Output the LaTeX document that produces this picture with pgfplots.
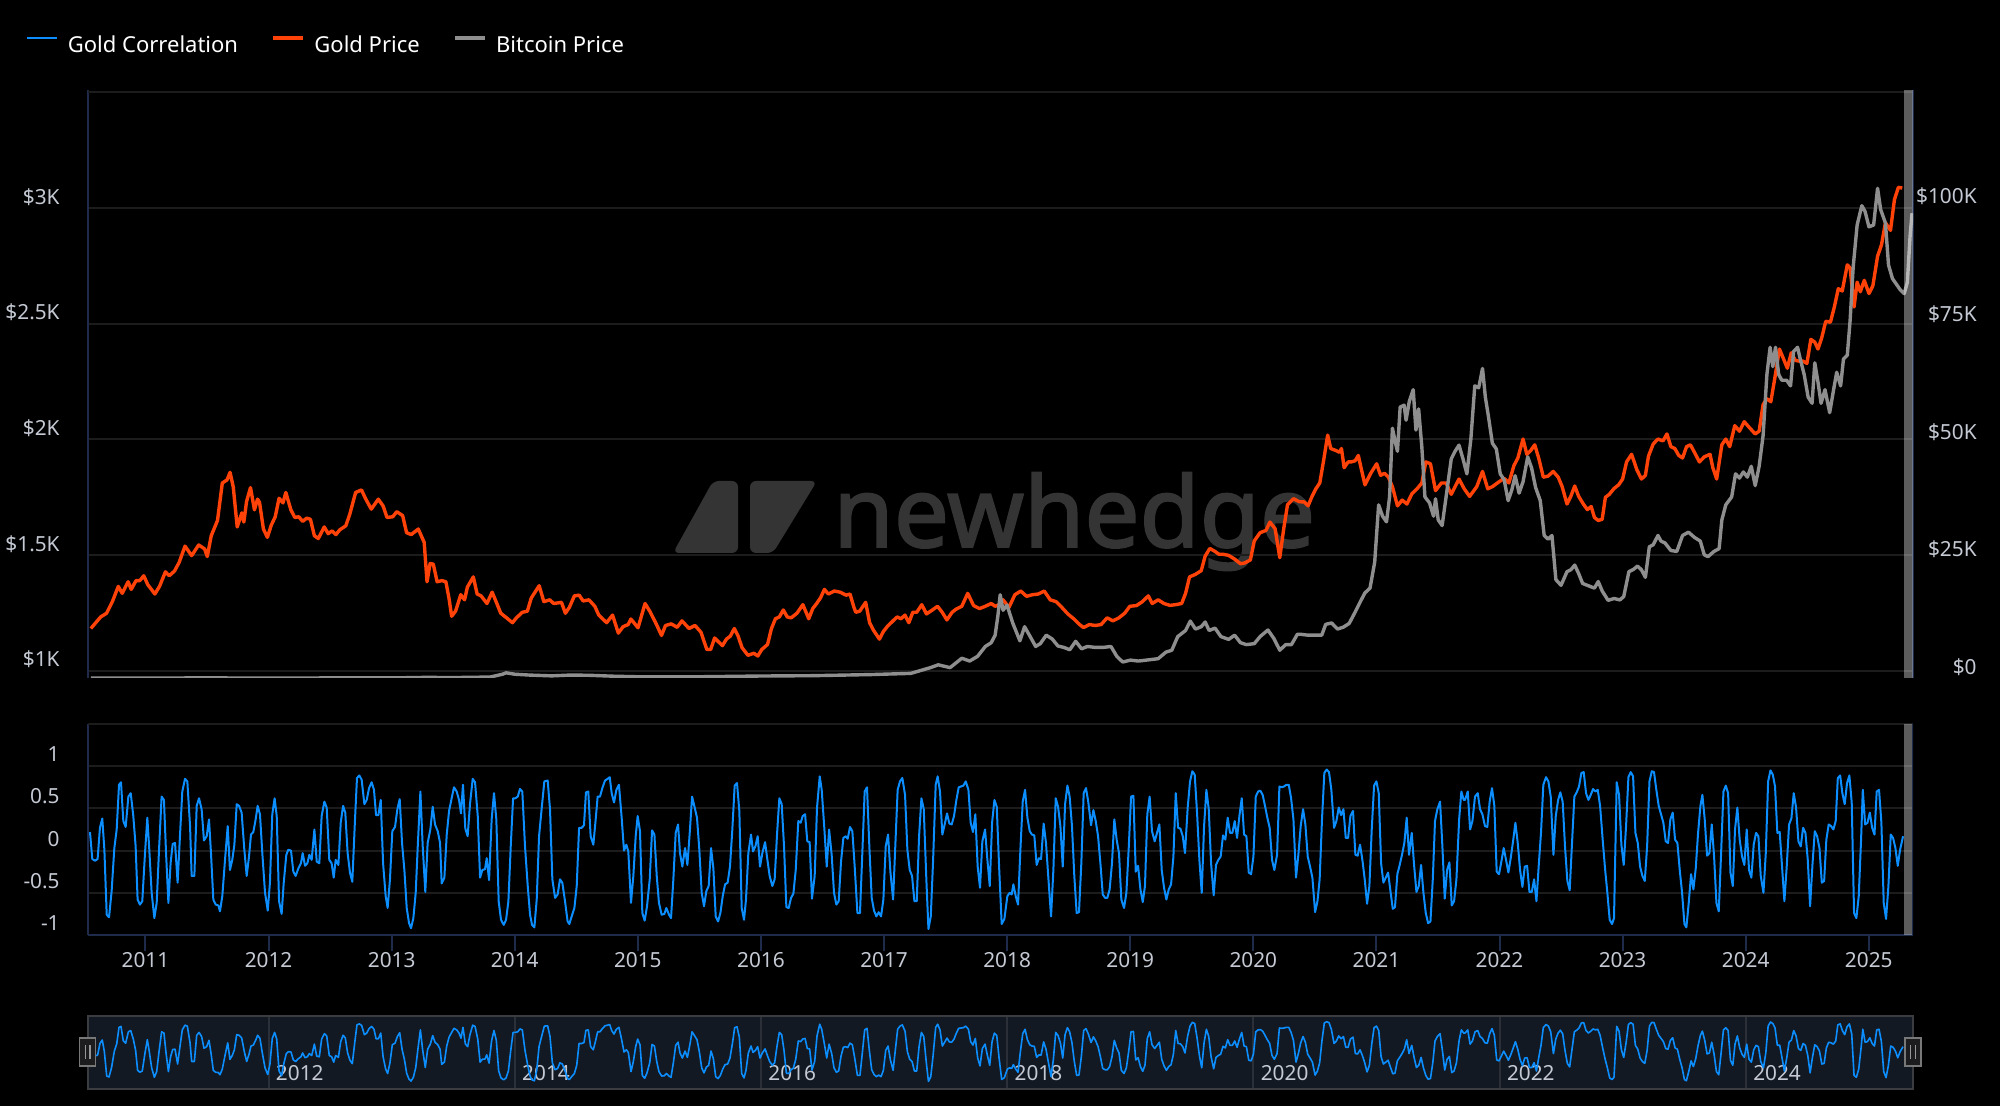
\documentclass[border=0pt]{standalone}
\usepackage{fontspec}
\setmainfont{Noto Sans}
\newfontfamily\wmfont[FakeBold=2]{Noto Sans}
\usepackage{pgfplots}
\usepackage{pgfplotstable}
\pgfplotsset{compat=1.18}

\definecolor{goldc}{HTML}{FF4208}
\definecolor{btcc}{HTML}{8E8E8E}
\definecolor{corrc}{HTML}{0C8EFF}
\definecolor{gridc}{HTML}{1C1C1C}
\definecolor{navyc}{HTML}{1E2B4A}
\definecolor{labc}{HTML}{C4C9D3}
\definecolor{wmc}{HTML}{343434}
\definecolor{navbg}{HTML}{131922}
\definecolor{navbd}{HTML}{3A3C40}
\definecolor{navsep}{HTML}{2A2F38}
\definecolor{handfill}{HTML}{1C1C1E}
\definecolor{handdraw}{HTML}{787878}
\definecolor{handgrip}{HTML}{969696}

\newcommand\tickfont{\fontsize{10.4}{12}\selectfont}
\newcommand\legfont{\fontsize{11}{13}\selectfont}

\pgfplotstableread{
year price
2010.556 1182
2010.588 1202
2010.636 1232
2010.684 1248
2010.731 1298
2010.779 1364
2010.811 1334
2010.859 1384
2010.884 1351
2010.923 1389
2010.954 1389
2010.986 1410
2011.018 1372
2011.076 1331
2011.114 1364
2011.162 1427
2011.193 1410
2011.235 1430
2011.273 1467
2011.321 1538
2011.375 1497
2011.432 1543
2011.480 1526
2011.502 1493
2011.534 1583
2011.585 1649
2011.624 1811
2011.662 1824
2011.687 1857
2011.713 1794
2011.745 1621
2011.783 1682
2011.799 1642
2011.821 1731
2011.853 1791
2011.885 1695
2011.910 1741
2011.926 1728
2011.958 1612
2011.990 1576
2012.022 1629
2012.054 1665
2012.085 1745
2012.117 1725
2012.140 1770
2012.181 1695
2012.213 1662
2012.245 1665
2012.277 1645
2012.309 1659
2012.340 1654
2012.372 1583
2012.404 1571
2012.452 1621
2012.484 1592
2012.516 1604
2012.547 1588
2012.579 1609
2012.627 1626
2012.659 1675
2012.707 1770
2012.755 1781
2012.786 1745
2012.834 1698
2012.891 1741
2012.930 1712
2012.962 1662
2013.009 1665
2013.041 1687
2013.089 1670
2013.121 1596
2013.159 1588
2013.216 1612
2013.264 1554
2013.287 1384
2013.312 1463
2013.338 1460
2013.369 1384
2013.408 1389
2013.440 1384
2013.465 1314
2013.487 1235
2013.519 1257
2013.561 1328
2013.592 1306
2013.615 1361
2013.663 1405
2013.694 1331
2013.726 1323
2013.774 1290
2013.816 1339
2013.854 1290
2013.886 1248
2013.933 1228
2013.981 1207
2014.013 1228
2014.061 1252
2014.102 1257
2014.134 1314
2014.198 1367
2014.236 1298
2014.284 1306
2014.316 1290
2014.379 1295
2014.411 1248
2014.443 1273
2014.484 1323
2014.523 1326
2014.555 1301
2014.602 1306
2014.650 1278
2014.682 1240
2014.746 1207
2014.794 1240
2014.841 1162
2014.880 1190
2014.921 1199
2014.943 1223
2015.001 1185
2015.058 1290
2015.096 1257
2015.144 1207
2015.192 1152
2015.224 1195
2015.271 1202
2015.319 1187
2015.358 1215
2015.415 1182
2015.464 1195
2015.512 1166
2015.560 1091
2015.591 1091
2015.623 1141
2015.655 1124
2015.687 1108
2015.719 1136
2015.751 1149
2015.783 1182
2015.814 1149
2015.846 1099
2015.894 1066
2015.942 1075
2015.974 1063
2016.006 1091
2016.053 1113
2016.085 1182
2016.117 1224
2016.149 1232
2016.181 1262
2016.213 1232
2016.245 1228
2016.292 1248
2016.340 1285
2016.388 1224
2016.420 1268
2016.452 1290
2016.484 1315
2016.515 1351
2016.547 1331
2016.595 1344
2016.643 1339
2016.691 1326
2016.723 1331
2016.755 1273
2016.770 1252
2016.802 1257
2016.850 1295
2016.882 1207
2016.914 1174
2016.962 1136
2016.994 1169
2017.025 1190
2017.057 1207
2017.105 1232
2017.137 1224
2017.169 1240
2017.201 1207
2017.233 1252
2017.265 1252
2017.306 1285
2017.344 1245
2017.392 1262
2017.434 1278
2017.472 1252
2017.510 1219
2017.552 1252
2017.583 1265
2017.631 1278
2017.679 1334
2017.727 1281
2017.775 1268
2017.822 1278
2017.870 1290
2017.902 1278
2017.934 1285
2017.966 1306
2018.014 1273
2018.062 1328
2018.110 1344
2018.157 1321
2018.205 1328
2018.253 1331
2018.301 1344
2018.349 1306
2018.397 1298
2018.444 1273
2018.492 1245
2018.540 1224
2018.588 1199
2018.620 1186
2018.667 1199
2018.715 1195
2018.763 1199
2018.811 1228
2018.859 1215
2018.907 1228
2018.954 1248
2018.996 1278
2019.050 1281
2019.098 1298
2019.146 1323
2019.178 1290
2019.226 1306
2019.273 1290
2019.321 1282
2019.369 1285
2019.417 1290
2019.449 1334
2019.481 1405
2019.529 1416
2019.576 1432
2019.608 1495
2019.646 1528
2019.688 1515
2019.720 1503
2019.752 1503
2019.799 1498
2019.847 1482
2019.895 1462
2019.927 1465
2019.975 1478
2020.007 1561
2020.054 1596
2020.102 1606
2020.134 1642
2020.176 1613
2020.214 1488
2020.246 1613
2020.277 1717
2020.325 1743
2020.373 1730
2020.412 1729
2020.444 1712
2020.476 1753
2020.507 1786
2020.539 1811
2020.571 1911
2020.603 2018
2020.628 1960
2020.667 1952
2020.699 1944
2020.715 1960
2020.737 1877
2020.769 1902
2020.794 1902
2020.826 1907
2020.852 1930
2020.874 1877
2020.906 1803
2020.953 1853
2021.001 1894
2021.033 1844
2021.065 1853
2021.097 1836
2021.129 1795
2021.170 1712
2021.208 1737
2021.247 1720
2021.288 1765
2021.329 1786
2021.368 1811
2021.400 1902
2021.438 1894
2021.479 1778
2021.527 1811
2021.565 1811
2021.607 1762
2021.638 1795
2021.670 1828
2021.712 1786
2021.756 1753
2021.814 1795
2021.861 1861
2021.903 1786
2021.941 1795
2021.989 1814
2022.037 1831
2022.075 1811
2022.116 1886
2022.148 1919
2022.190 2001
2022.221 1935
2022.253 1952
2022.285 1976
2022.317 1919
2022.355 1836
2022.394 1841
2022.435 1861
2022.476 1836
2022.508 1795
2022.547 1720
2022.578 1753
2022.610 1798
2022.642 1753
2022.680 1720
2022.712 1696
2022.744 1709
2022.770 1662
2022.801 1649
2022.833 1654
2022.859 1749
2022.891 1762
2022.929 1787
2022.967 1803
2022.999 1828
2023.031 1902
2023.072 1935
2023.114 1869
2023.152 1828
2023.184 1844
2023.209 1927
2023.248 1980
2023.286 2001
2023.327 1993
2023.359 2023
2023.391 1968
2023.423 1960
2023.455 1930
2023.486 1919
2023.518 1968
2023.550 1976
2023.582 1944
2023.623 1902
2023.662 1924
2023.709 1935
2023.732 1877
2023.763 1828
2023.805 1976
2023.837 2001
2023.869 1968
2023.910 2059
2023.948 2035
2023.987 2076
2024.028 2051
2024.076 2023
2024.108 2035
2024.140 2150
2024.171 2175
2024.203 2162
2024.241 2283
2024.273 2390
2024.305 2349
2024.337 2307
2024.369 2374
2024.401 2341
2024.432 2338
2024.464 2338
2024.496 2328
2024.528 2432
2024.560 2420
2024.586 2390
2024.617 2440
2024.649 2510
2024.687 2506
2024.719 2572
2024.751 2651
2024.783 2641
2024.824 2754
2024.847 2741
2024.879 2572
2024.904 2679
2024.930 2638
2024.962 2687
2025.000 2630
2025.032 2664
2025.070 2791
2025.102 2841
2025.134 2936
2025.175 2903
2025.207 3036
2025.239 3089
2025.271 3086
}\goldtable

\pgfplotstableread{
year btc
2010.556 0.07
2010.900 0.25
2011.200 0.9
2011.450 17
2011.800 3
2012.000 5
2012.600 10
2013.000 13
2013.280 130
2013.500 90
2013.800 200
2013.900 800
2013.930 1100
2014.000 800
2014.120 620
2014.300 450
2014.450 620
2014.600 580
2014.800 380
2015.000 260
2015.200 240
2015.464 250
2016.000 420
2016.420 490
2016.898 730
2017.217 980
2017.376 2200
2017.440 2800
2017.536 2200
2017.631 4200
2017.695 3600
2017.759 4600
2017.822 6700
2017.870 7500
2017.902 9100
2017.924 13200
2017.943 17700
2017.966 14400
2017.998 15500
2018.046 11600
2018.103 7900
2018.141 10900
2018.180 9100
2018.231 6700
2018.269 7300
2018.317 9100
2018.365 8300
2018.412 6800
2018.460 6500
2018.508 6000
2018.556 7800
2018.604 6200
2018.651 6700
2018.715 6500
2018.779 6500
2018.843 6700
2018.890 4600
2018.938 3400
2019.002 3800
2019.066 3600
2019.130 3800
2019.226 4100
2019.289 5500
2019.337 5900
2019.385 8800
2019.449 10100
2019.487 12100
2019.529 10400
2019.576 10900
2019.608 11900
2019.640 10100
2019.688 10600
2019.736 8800
2019.799 8200
2019.847 9100
2019.895 7500
2019.943 7100
2020.007 7300
2020.054 8800
2020.118 10200
2020.166 8400
2020.214 5900
2020.262 7100
2020.309 7100
2020.357 9300
2020.380 9300
2020.444 9100
2020.507 9100
2020.555 9100
2020.587 11400
2020.635 11700
2020.683 10400
2020.730 10800
2020.778 11600
2020.826 14000
2020.874 16500
2020.906 18100
2020.947 19100
2020.985 24600
2021.017 36800
2021.049 34400
2021.081 33200
2021.106 38500
2021.129 53100
2021.151 50300
2021.170 48200
2021.192 57600
2021.224 58000
2021.240 54800
2021.266 58800
2021.298 61300
2021.320 52700
2021.342 57200
2021.368 49100
2021.393 38500
2021.431 37200
2021.463 34400
2021.479 38100
2021.501 33600
2021.533 32400
2021.565 38500
2021.607 46600
2021.638 48200
2021.670 49500
2021.702 46600
2021.734 43400
2021.766 50700
2021.798 62100
2021.830 61700
2021.861 65800
2021.884 59700
2021.909 55600
2021.941 49900
2021.973 48700
2022.005 43400
2022.037 42100
2022.069 37700
2022.100 40100
2022.126 43000
2022.158 39300
2022.190 41700
2022.228 47000
2022.260 44600
2022.292 40500
2022.330 37700
2022.362 30300
2022.394 29500
2022.425 30300
2022.457 20900
2022.499 19700
2022.547 22600
2022.578 23000
2022.610 24000
2022.642 22200
2022.674 20100
2022.722 19600
2022.770 19100
2022.801 20500
2022.833 18500
2022.881 16500
2022.929 16900
2022.977 16600
2023.008 17300
2023.050 22600
2023.088 23100
2023.120 23800
2023.152 23000
2023.184 21400
2023.216 27900
2023.247 28300
2023.286 30300
2023.311 29100
2023.343 28700
2023.391 27100
2023.439 26900
2023.486 30300
2023.534 31000
2023.582 29900
2023.630 29100
2023.662 26200
2023.693 25800
2023.741 26900
2023.783 27500
2023.805 33600
2023.837 36800
2023.885 38500
2023.916 43400
2023.948 42500
2023.980 43800
2024.012 42700
2024.044 45000
2024.076 40900
2024.108 45000
2024.140 51500
2024.171 64500
2024.197 70300
2024.219 66200
2024.241 70300
2024.267 64500
2024.292 63300
2024.331 63300
2024.363 62100
2024.388 69400
2024.420 70300
2024.442 67800
2024.474 64500
2024.506 59700
2024.538 58400
2024.560 67000
2024.586 62900
2024.611 58400
2024.643 61300
2024.681 56400
2024.713 61300
2024.738 65000
2024.770 62100
2024.793 67800
2024.824 68600
2024.847 76000
2024.872 87400
2024.904 96300
2024.942 100400
2024.968 99200
2025.000 95900
2025.038 96300
2025.070 104100
2025.095 99600
2025.134 96700
2025.159 87800
2025.191 84900
2025.223 83700
2025.255 82500
2025.286 81700
2025.312 84100
2025.334 93900
2025.350 98800
}\btctable

\pgfplotstableread{
year corr
2010.549 0.22
2010.568 -0.10
2010.590 -0.12
2010.611 -0.10
2010.630 0.27
2010.649 0.38
2010.666 0.01
2010.685 -0.76
2010.704 -0.79
2010.725 -0.48
2010.747 0.03
2010.766 0.25
2010.785 0.78
2010.801 0.81
2010.820 0.35
2010.839 0.28
2010.861 0.64
2010.880 0.68
2010.901 0.41
2010.920 0.05
2010.936 -0.58
2010.955 -0.64
2010.974 -0.60
2010.996 -0.03
2011.015 0.39
2011.031 0.01
2011.050 -0.50
2011.072 -0.80
2011.091 -0.62
2011.110 0.01
2011.131 0.64
2011.150 0.60
2011.167 -0.03
2011.186 -0.62
2011.204 -0.15
2011.221 0.08
2011.240 0.09
2011.261 -0.38
2011.280 0.17
2011.299 0.70
2011.321 0.85
2011.340 0.82
2011.362 0.29
2011.375 -0.30
2011.397 -0.30
2011.416 0.53
2011.435 0.62
2011.456 0.49
2011.475 0.12
2011.497 0.17
2011.516 0.37
2011.532 -0.03
2011.551 -0.58
2011.570 -0.64
2011.592 -0.65
2011.605 -0.72
2011.624 -0.54
2011.646 -0.11
2011.668 0.29
2011.686 -0.23
2011.705 -0.11
2011.722 0.07
2011.741 0.55
2011.760 0.53
2011.781 0.45
2011.803 0.01
2011.822 -0.30
2011.841 -0.07
2011.857 0.19
2011.876 0.22
2011.895 0.37
2011.911 0.53
2011.930 0.43
2011.949 -0.03
2011.971 -0.50
2011.993 -0.71
2012.011 -0.38
2012.030 0.43
2012.049 0.62
2012.066 0.41
2012.085 -0.60
2012.106 -0.75
2012.123 -0.38
2012.144 -0.05
2012.160 0.01
2012.182 0.00
2012.201 -0.25
2012.220 -0.30
2012.242 -0.21
2012.263 -0.15
2012.277 -0.03
2012.296 -0.18
2012.315 -0.15
2012.331 -0.05
2012.350 -0.11
2012.372 0.25
2012.391 -0.13
2012.412 -0.15
2012.431 0.41
2012.453 0.58
2012.472 0.51
2012.493 -0.11
2012.512 -0.15
2012.529 -0.32
2012.545 -0.11
2012.567 -0.17
2012.586 0.33
2012.605 0.53
2012.623 0.45
2012.642 -0.03
2012.661 -0.26
2012.680 -0.37
2012.702 0.37
2012.718 0.86
2012.737 0.89
2012.756 0.84
2012.778 0.55
2012.797 0.60
2012.816 0.74
2012.837 0.81
2012.856 0.72
2012.873 0.42
2012.892 0.42
2012.911 0.60
2012.930 -0.15
2012.951 -0.54
2012.967 -0.68
2012.986 -0.34
2013.005 0.23
2013.027 0.28
2013.046 0.49
2013.065 0.61
2013.084 0.09
2013.103 -0.23
2013.122 -0.68
2013.141 -0.86
2013.157 -0.92
2013.176 -0.80
2013.195 -0.50
2013.211 0.03
2013.233 0.70
2013.252 0.05
2013.273 -0.49
2013.292 0.09
2013.314 0.25
2013.333 0.52
2013.352 0.31
2013.374 0.23
2013.393 0.09
2013.406 -0.39
2013.428 -0.32
2013.447 0.19
2013.466 0.47
2013.487 0.62
2013.506 0.75
2013.528 0.70
2013.547 0.60
2013.563 0.44
2013.579 0.78
2013.598 0.26
2013.617 0.17
2013.636 0.55
2013.658 0.85
2013.677 0.81
2013.699 0.41
2013.718 -0.32
2013.736 -0.23
2013.758 -0.22
2013.772 -0.09
2013.791 -0.35
2013.812 0.37
2013.831 0.68
2013.850 0.37
2013.869 -0.60
2013.888 -0.82
2013.910 -0.88
2013.929 -0.82
2013.948 -0.60
2013.967 0.05
2013.986 0.62
2014.005 0.62
2014.024 0.64
2014.042 0.73
2014.061 0.70
2014.083 0.05
2014.105 -0.42
2014.124 -0.76
2014.140 -0.88
2014.159 -0.91
2014.178 -0.58
2014.197 0.17
2014.219 0.51
2014.240 0.82
2014.267 0.83
2014.286 0.49
2014.305 -0.34
2014.327 -0.56
2014.348 -0.52
2014.367 -0.34
2014.386 -0.38
2014.408 -0.60
2014.429 -0.84
2014.443 -0.87
2014.462 -0.78
2014.484 -0.68
2014.503 -0.42
2014.522 0.27
2014.543 0.27
2014.562 0.30
2014.578 0.69
2014.597 0.70
2014.616 0.17
2014.638 0.07
2014.657 0.37
2014.673 0.64
2014.692 0.64
2014.711 0.74
2014.733 0.83
2014.754 0.85
2014.771 0.87
2014.787 0.68
2014.806 0.57
2014.825 0.72
2014.846 0.78
2014.868 0.39
2014.887 0.00
2014.906 0.07
2014.922 -0.01
2014.944 -0.62
2014.963 -0.30
2014.982 0.17
2014.998 0.41
2015.017 0.23
2015.036 -0.74
2015.055 -0.83
2015.074 -0.66
2015.096 -0.34
2015.115 0.24
2015.134 0.19
2015.153 -0.30
2015.171 -0.62
2015.193 -0.76
2015.215 -0.75
2015.231 -0.68
2015.253 -0.76
2015.269 -0.80
2015.288 -0.34
2015.307 0.21
2015.326 0.31
2015.342 -0.03
2015.361 -0.19
2015.383 0.03
2015.402 -0.17
2015.421 0.21
2015.440 0.64
2015.458 0.53
2015.480 0.39
2015.499 0.01
2015.518 -0.50
2015.537 -0.66
2015.556 -0.48
2015.575 -0.42
2015.594 0.03
2015.613 -0.21
2015.632 -0.78
2015.651 -0.84
2015.670 -0.74
2015.689 -0.54
2015.708 -0.40
2015.729 -0.38
2015.748 -0.19
2015.767 0.25
2015.786 0.77
2015.805 0.80
2015.824 0.47
2015.843 -0.68
2015.862 -0.82
2015.878 -0.58
2015.897 -0.03
2015.919 0.19
2015.935 -0.01
2015.954 0.05
2015.973 0.17
2015.992 -0.19
2016.011 -0.03
2016.033 0.10
2016.052 -0.11
2016.070 -0.30
2016.092 -0.42
2016.111 -0.34
2016.130 0.19
2016.149 0.62
2016.168 0.55
2016.187 0.05
2016.206 -0.67
2016.225 -0.68
2016.244 -0.56
2016.263 -0.51
2016.282 -0.23
2016.303 0.35
2016.322 0.33
2016.339 0.41
2016.358 0.43
2016.376 0.11
2016.395 0.10
2016.414 -0.57
2016.436 -0.30
2016.455 0.51
2016.477 0.88
2016.493 0.72
2016.515 0.25
2016.534 -0.19
2016.553 0.25
2016.574 -0.05
2016.593 -0.50
2016.612 -0.64
2016.631 -0.60
2016.650 -0.13
2016.669 0.15
2016.688 0.17
2016.704 0.14
2016.723 0.28
2016.742 0.23
2016.761 -0.19
2016.783 -0.74
2016.804 -0.74
2016.823 -0.03
2016.842 0.70
2016.861 0.75
2016.880 0.05
2016.899 -0.56
2016.918 -0.71
2016.937 -0.78
2016.956 -0.73
2016.975 -0.78
2016.994 -0.58
2017.013 0.05
2017.032 0.19
2017.051 -0.25
2017.073 -0.58
2017.089 -0.01
2017.110 0.72
2017.129 0.82
2017.148 0.86
2017.170 0.66
2017.189 0.01
2017.208 -0.23
2017.227 -0.30
2017.246 -0.60
2017.265 -0.60
2017.284 0.17
2017.303 0.62
2017.322 0.49
2017.343 -0.34
2017.360 -0.93
2017.379 -0.78
2017.397 -0.15
2017.419 0.78
2017.435 0.88
2017.454 0.70
2017.473 0.19
2017.492 0.31
2017.511 0.44
2017.530 0.32
2017.549 0.31
2017.568 0.41
2017.587 0.60
2017.606 0.75
2017.625 0.76
2017.644 0.77
2017.663 0.82
2017.685 0.72
2017.703 0.33
2017.722 0.22
2017.741 0.43
2017.760 -0.19
2017.779 -0.44
2017.798 0.11
2017.820 0.25
2017.839 -0.11
2017.858 -0.42
2017.877 0.33
2017.896 0.60
2017.915 0.52
2017.934 -0.19
2017.955 -0.87
2017.977 -0.81
2018.001 -0.54
2018.020 -0.50
2018.036 -0.52
2018.050 -0.40
2018.069 -0.54
2018.088 -0.64
2018.107 0.01
2018.126 0.58
2018.145 0.72
2018.164 0.39
2018.183 0.23
2018.201 0.19
2018.220 0.18
2018.239 -0.17
2018.258 -0.09
2018.275 -0.10
2018.296 0.32
2018.315 0.09
2018.334 -0.32
2018.356 -0.78
2018.375 -0.23
2018.394 0.62
2018.413 0.52
2018.432 0.29
2018.451 -0.19
2018.470 0.55
2018.489 0.77
2018.507 0.64
2018.526 0.29
2018.545 -0.30
2018.564 -0.74
2018.583 -0.73
2018.602 -0.15
2018.621 0.68
2018.640 0.74
2018.659 0.57
2018.681 0.30
2018.700 0.48
2018.719 0.35
2018.738 0.17
2018.757 -0.15
2018.776 -0.52
2018.795 -0.56
2018.813 -0.56
2018.832 -0.46
2018.851 -0.15
2018.870 0.37
2018.889 0.13
2018.908 -0.03
2018.927 -0.58
2018.949 -0.68
2018.968 -0.50
2018.987 0.03
2019.006 0.64
2019.025 0.65
2019.044 -0.25
2019.063 -0.18
2019.082 -0.46
2019.101 -0.61
2019.119 -0.42
2019.138 0.43
2019.157 0.64
2019.176 0.23
2019.198 0.11
2019.217 0.21
2019.236 0.31
2019.255 -0.23
2019.274 -0.44
2019.293 -0.58
2019.312 -0.46
2019.331 -0.40
2019.350 -0.07
2019.369 0.68
2019.388 0.27
2019.407 0.26
2019.426 0.17
2019.444 -0.03
2019.466 0.51
2019.485 0.82
2019.504 0.94
2019.523 0.90
2019.542 0.45
2019.561 -0.11
2019.580 -0.50
2019.599 0.29
2019.618 0.72
2019.637 0.49
2019.656 -0.15
2019.677 -0.53
2019.696 -0.17
2019.715 -0.11
2019.734 -0.07
2019.753 0.18
2019.772 0.13
2019.791 0.39
2019.810 0.21
2019.829 0.21
2019.848 0.35
2019.867 0.15
2019.886 0.41
2019.905 0.62
2019.924 0.19
2019.943 0.17
2019.962 -0.26
2019.981 -0.28
2020.000 -0.07
2020.019 0.64
2020.038 0.70
2020.056 0.71
2020.075 0.66
2020.094 0.53
2020.113 0.39
2020.132 0.27
2020.151 -0.11
2020.170 -0.23
2020.192 -0.05
2020.211 0.76
2020.230 0.75
2020.249 0.76
2020.268 0.78
2020.287 0.78
2020.306 0.62
2020.325 0.37
2020.346 -0.32
2020.365 -0.05
2020.384 0.29
2020.403 0.49
2020.422 0.31
2020.441 -0.07
2020.460 -0.19
2020.479 -0.32
2020.501 -0.73
2020.520 -0.60
2020.538 -0.34
2020.557 0.37
2020.576 0.92
2020.595 0.96
2020.614 0.93
2020.633 0.72
2020.655 0.27
2020.674 0.35
2020.693 0.51
2020.712 0.42
2020.731 0.49
2020.750 0.15
2020.769 0.15
2020.788 0.41
2020.809 0.47
2020.828 -0.05
2020.847 -0.06
2020.866 0.07
2020.885 -0.11
2020.904 -0.34
2020.923 -0.63
2020.942 -0.42
2020.961 0.25
2020.980 0.77
2020.999 0.82
2021.018 0.68
2021.037 -0.15
2021.056 -0.38
2021.075 -0.32
2021.094 -0.26
2021.113 -0.48
2021.132 -0.69
2021.150 -0.67
2021.169 -0.28
2021.188 -0.17
2021.207 -0.05
2021.226 0.09
2021.245 0.39
2021.264 -0.05
2021.286 0.21
2021.305 -0.17
2021.324 -0.49
2021.343 -0.42
2021.362 -0.17
2021.381 -0.50
2021.400 -0.74
2021.419 -0.86
2021.438 -0.84
2021.457 -0.34
2021.475 0.35
2021.494 0.49
2021.516 0.58
2021.535 0.05
2021.554 -0.57
2021.573 -0.23
2021.592 -0.14
2021.611 -0.65
2021.630 -0.60
2021.649 -0.34
2021.671 0.37
2021.689 0.70
2021.708 0.60
2021.719 0.60
2021.741 0.70
2021.760 0.25
2021.779 0.35
2021.800 0.64
2021.822 0.68
2021.841 0.49
2021.860 0.43
2021.881 0.29
2021.900 0.28
2021.919 0.58
2021.938 0.74
2021.957 0.53
2021.976 -0.25
2021.995 -0.28
2022.014 -0.13
2022.033 0.03
2022.052 -0.11
2022.071 -0.26
2022.090 -0.09
2022.109 0.11
2022.128 0.33
2022.147 0.09
2022.166 -0.23
2022.185 -0.43
2022.204 -0.19
2022.223 -0.18
2022.242 -0.49
2022.261 -0.49
2022.280 -0.34
2022.299 -0.60
2022.317 -0.19
2022.336 0.21
2022.355 0.78
2022.377 0.87
2022.396 0.82
2022.415 0.64
2022.437 -0.05
2022.456 0.41
2022.475 0.60
2022.493 0.69
2022.512 0.58
2022.531 0.05
2022.550 -0.36
2022.569 -0.47
2022.588 0.09
2022.607 0.64
2022.626 0.69
2022.645 0.76
2022.664 0.92
2022.683 0.93
2022.702 0.68
2022.721 0.60
2022.740 0.66
2022.759 0.73
2022.778 0.70
2022.797 0.72
2022.816 0.53
2022.837 0.13
2022.856 -0.21
2022.875 -0.50
2022.894 -0.82
2022.913 -0.87
2022.929 -0.80
2022.951 0.81
2022.970 0.66
2022.989 0.07
2023.008 -0.17
2023.027 0.29
2023.046 0.87
2023.065 0.93
2023.084 0.88
2023.103 0.21
2023.122 0.09
2023.141 -0.19
2023.160 -0.30
2023.179 -0.36
2023.198 0.05
2023.217 0.82
2023.236 0.94
2023.254 0.93
2023.273 0.72
2023.292 0.53
2023.311 0.43
2023.330 0.33
2023.349 0.11
2023.368 0.09
2023.387 0.37
2023.406 0.45
2023.425 0.13
2023.444 0.09
2023.463 -0.23
2023.482 -0.50
2023.501 -0.87
2023.517 -0.91
2023.536 -0.62
2023.555 -0.28
2023.574 -0.46
2023.593 -0.21
2023.612 0.21
2023.631 0.53
2023.647 0.66
2023.666 0.37
2023.685 -0.06
2023.704 -0.03
2023.723 0.31
2023.742 -0.07
2023.761 -0.62
2023.780 -0.72
2023.799 -0.03
2023.818 0.70
2023.837 0.77
2023.856 0.68
2023.875 -0.26
2023.894 -0.42
2023.912 0.25
2023.931 0.51
2023.950 0.13
2023.969 -0.07
2023.988 -0.17
2024.007 0.25
2024.026 -0.23
2024.045 -0.32
2024.064 0.07
2024.083 0.21
2024.102 0.17
2024.121 -0.30
2024.143 -0.50
2024.162 -0.03
2024.181 0.82
2024.200 0.95
2024.219 0.90
2024.237 0.76
2024.256 0.21
2024.275 0.22
2024.294 -0.19
2024.313 -0.60
2024.332 -0.19
2024.351 0.31
2024.370 0.38
2024.389 0.68
2024.408 0.51
2024.427 0.11
2024.446 0.05
2024.465 0.27
2024.484 0.21
2024.503 -0.11
2024.522 -0.66
2024.541 -0.17
2024.560 0.23
2024.579 0.17
2024.598 0.03
2024.617 -0.38
2024.636 -0.36
2024.654 0.13
2024.673 0.31
2024.692 0.29
2024.711 0.25
2024.730 0.35
2024.747 0.86
2024.766 0.89
2024.784 0.68
2024.803 0.55
2024.822 0.80
2024.841 0.89
2024.860 0.57
2024.879 -0.74
2024.898 -0.80
2024.917 -0.54
2024.936 0.13
2024.950 0.72
2024.969 0.31
2024.988 0.33
2025.007 0.45
2025.026 0.27
2025.045 0.19
2025.063 0.70
2025.082 0.72
2025.101 0.33
2025.120 -0.62
2025.139 -0.81
2025.158 -0.42
2025.177 0.19
2025.196 0.15
2025.215 0.03
2025.234 -0.18
2025.253 0.01
2025.277 0.17
}\corrtable

\begin{document}
\begin{tikzpicture}
\fill[black] (0pt,0pt) rectangle (1000pt,553pt);
% watermark
\fill[wmc, rounded corners=3pt] (336.5pt,276.5pt) -- (356.5pt,312.5pt) -- (369pt,312.5pt) -- (369pt,276.5pt) -- cycle;
\fill[wmc, rounded corners=3pt] (375pt,312.5pt) -- (408.5pt,312.5pt) -- (386.5pt,276.5pt) -- (375pt,276.5pt) -- cycle;
\node[text=wmc, anchor=base west, inner sep=0pt] at (416.5pt,279.5pt) {\wmfont\fontsize{48.9}{50}\selectfont newhedge};

% main panel: gold price (left axis)
\begin{axis}[
  at={(44pt,214pt)}, anchor=south west, scale only axis,
  width=912.5pt, height=294pt,
  xmin=2010.533, xmax=2025.358, ymin=968, ymax=3510,
  axis x line=none, axis y line*=left,
  axis line style={navyc, line width=1.4pt, -},
  xtick=\empty,
  ytick={1000,1500,2000,2500,3000},
  yticklabels={\$1K,\$1.5K,\$2K,\$2.5K,\$3K},
  extra y ticks={3500}, extra y tick labels={},
  ymajorgrids, grid style={gridc, line width=1pt},
  major tick length=0pt, ytick style={draw=none},
  yticklabel style={font=\tickfont, text=labc, anchor=east, inner sep=0pt, xshift=-14pt, yshift=5.5pt},
  scaled y ticks=false,
  legend columns=3,
  legend style={at={(axis description cs:-0.03397,1.0755)}, anchor=west, draw=none, fill=none,
    text=white, font=\legfont, inner sep=0pt,
    /tikz/every even column/.append style={column sep=14.5pt},
    nodes={inner sep=2.25pt}},
  legend image code/.code={\draw[#1] (0pt,3.7pt) -- (15pt,3.7pt); \path (17.5pt,3.7pt);},
]
\addlegendimage{corrc, line width=1pt}
\addlegendentry{Gold Correlation}
\addplot[goldc, line width=1.7pt, line join=round] table[x=year,y=price]{\goldtable};
\addlegendentry{Gold Price}
\addlegendimage{btcc, line width=1.7pt}
\addlegendentry{Bitcoin Price}
\end{axis}

% main panel: bitcoin price (right axis)
\begin{axis}[
  at={(44pt,214pt)}, anchor=south west, scale only axis,
  width=912.5pt, height=294pt,
  xmin=2010.533, xmax=2025.358, ymin=0, ymax=125000,
  axis x line=none, axis y line*=right,
  axis line style={navyc, line width=1.4pt, -},
  xtick=\empty,
  ytick={0,25000,50000,75000,100000},
  yticklabels={\$0,\$25K,\$50K,\$75K,\$100K},
  major tick length=0pt, ytick style={draw=none},
  yticklabel style={font=\tickfont, text=labc, anchor=east, inner sep=0pt, xshift=32pt, yshift=5.5pt},
  scaled y ticks=false,
]
\addplot[btcc, line width=1.7pt, line join=round] table[x=year,y=btc]{\btctable};
\fill[white, opacity=0.36] (axis cs:2025.281,0) rectangle (axis cs:2025.358,125000);
\end{axis}

% correlation panel
\begin{axis}[
  at={(44pt,85.5pt)}, anchor=south west, scale only axis,
  width=912.5pt, height=105.5pt,
  xmin=2010.533, xmax=2025.358, ymin=-1, ymax=1.5,
  axis x line*=bottom, axis y line*=left,
  axis line style={navyc, line width=1.4pt, -},
  xtick={2011,2012,...,2025},
  xticklabels={2011,2012,2013,2014,2015,2016,2017,2018,2019,2020,2021,2022,2023,2024,2025},
  ytick={-1,-0.5,0,0.5,1},
  yticklabels={-1,-0.5,0,0.5,1},
  extra y ticks={1.5}, extra y tick labels={},
  extra y tick style={major tick length=0pt},
  ymajorgrids, grid style={gridc, line width=1pt},
  tick align=inside, major tick length=8pt,
  xtick style={navyc, line width=1pt, yshift=-8pt},
  ytick style={draw=none},
  xticklabel style={font=\tickfont, text=labc, anchor=north, inner sep=0pt, yshift=-8.5pt},
  yticklabel style={font=\tickfont, text=labc, anchor=east, inner sep=0pt, xshift=-14pt, yshift=6pt},
]
\addplot[corrc, line width=1pt, line join=round] table[x=year,y=corr]{\corrtable};
\fill[white, opacity=0.36] (axis cs:2025.281,-1) rectangle (axis cs:2025.358,1.5);
\draw[navyc, line width=1.4pt] (axis cs:2025.358,-1) -- (axis cs:2025.358,1.5);
\end{axis}

% navigator
\begin{axis}[
  at={(44pt,8.5pt)}, anchor=south west, scale only axis,
  width=912.5pt, height=36.5pt,
  xmin=2010.533, xmax=2025.358, ymin=-1.17, ymax=1.14,
  axis background/.style={fill=navbg},
  axis line style={navbd, line width=1pt},
  xtick={2012,2014,...,2024},
  xticklabels={2012,2014,2016,2018,2020,2022,2024},
  xmajorgrids, grid style={navsep, line width=1pt},
  ytick=\empty, major tick length=0pt, xtick style={draw=none},
  xticklabel style={font=\tickfont, text=labc, anchor=west, inner sep=0pt, xshift=3.5pt, yshift=8pt},
]
\addplot[corrc, line width=0.8pt, line join=round] table[x=year,y=corr]{\corrtable};
\end{axis}

% navigator handles
\draw[fill=handfill, draw=handdraw, line width=0.75pt] (39.75pt,20pt) rectangle (47.75pt,34pt);
\draw[handgrip, line width=0.6pt] (42.55pt,23.5pt) -- (42.55pt,30.5pt);
\draw[handgrip, line width=0.6pt] (44.95pt,23.5pt) -- (44.95pt,30.5pt);
\draw[fill=handfill, draw=handdraw, line width=0.75pt] (952.5pt,20pt) rectangle (960.5pt,34pt);
\draw[handgrip, line width=0.6pt] (955.3pt,23.5pt) -- (955.3pt,30.5pt);
\draw[handgrip, line width=0.6pt] (957.7pt,23.5pt) -- (957.7pt,30.5pt);
\end{tikzpicture}
\end{document}
